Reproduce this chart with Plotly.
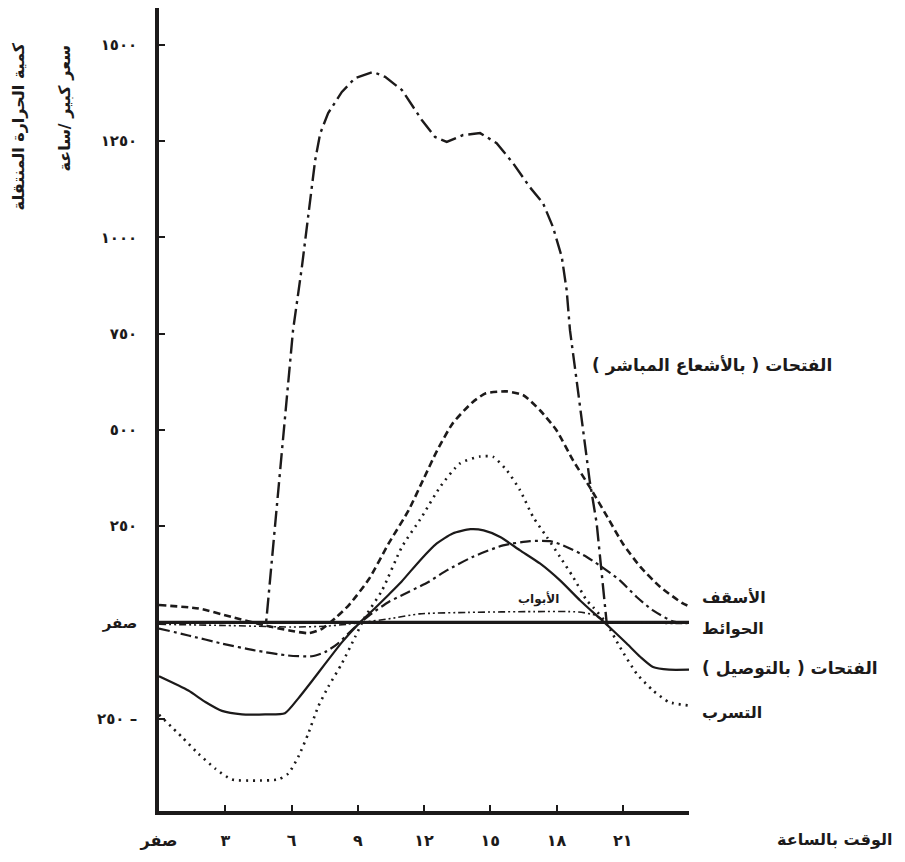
import plotly.graph_objects as go

# hours (x) and heat gain values (y)
sun_h = [0, 4.85, 4.9, 5.5, 6.07, 6.47, 6.76, 7.07, 7.3, 7.66, 8.28, 8.88, 9.7, 10.24, 11.0,
         11.9, 12.5, 13.03, 13.77, 14.54, 15.29, 16.03, 16.8, 17.39, 17.84, 18.24, 18.46,
         18.61, 18.91, 19.2, 19.5, 19.82, 20.05, 20.27, 24]
sun_v = [0, 0, 30, 395, 759, 923, 1063, 1200, 1270, 1323, 1378, 1414, 1430, 1417, 1383,
         1305, 1261, 1248, 1266, 1271, 1245, 1193, 1130, 1089, 1027, 949, 863,
         759, 629, 499, 369, 257, 127, 0, 0]

roof_h = [0, 1.8, 3.3, 4.8, 5.9, 6.8, 7.4, 8.0, 8.6, 9.5, 10.4, 11.3, 12.0, 12.6, 13.3, 14.2,
          14.8, 15.75, 16.5, 17.25, 18.0, 18.75, 19.5, 20.3, 21.0, 21.8, 22.7, 23.7, 24]
roof_v = [45, 36, 14, -8, -21, -28, -16, 12, 45, 112, 205, 291, 375, 447, 517, 572,
          595, 600, 590, 551, 499, 421, 352, 274, 205, 144, 92, 50, 42]

infil_h = [0, 1.04, 1.78, 2.55, 3.3, 4.36, 5.4, 5.85, 6.3, 6.76, 7.2, 7.66, 8.28, 8.88, 9.33,
           10.1, 11.0, 11.9, 12.73, 13.63, 14.54, 15.13, 15.75, 16.35, 16.94, 17.56, 18.16,
           18.75, 19.37, 19.65, 20.27, 20.87, 21.63, 22.37, 23.1, 24]
infil_v = [-240, -298, -341, -380, -408, -411, -408, -393, -350, -289, -220, -168, -107, -38, 14,
           83, 196, 274, 352, 413, 431, 430, 395, 343, 274, 222, 170,
           118, 57, 40, -3, -64, -133, -177, -207, -216]

cond_h = [0, 1.33, 2.1, 2.85, 3.76, 4.8, 5.7, 6.3, 6.92, 7.52, 8.28, 9.1, 9.8, 10.4, 11.0,
          11.82, 12.58, 13.3, 14.1, 14.7, 15.45, 16.35, 17.25, 18.16, 19.07, 19.97, 20.56,
          21.18, 21.8, 22.37, 23.1, 24]
cond_v = [-140, -177, -207, -230, -239, -239, -236, -198, -153, -108, -52, 0, 38, 72, 107,
          161, 205, 231, 242, 239, 222, 187, 153, 109, 57, 10, -21,
          -55, -90, -116, -123, -123]

wall_h = [0, 1.33, 2.85, 4.36, 5.85, 6.92, 7.52, 8.1, 8.88, 9.63, 10.4, 11.3, 12.2, 13.03, 14.2,
          15.58, 16.8, 17.7, 18.3, 19.37, 20.27, 20.87, 21.63, 22.37, 23.3, 24]
wall_v = [-16, -34, -55, -73, -86, -88, -77, -55, -12, 23, 53, 79, 105, 135, 170,
          200, 211, 211, 200, 170, 135, 109, 66, 31, 2, 0]

door_h = [0, 3, 6, 7.5, 8.5, 9.2, 10.5, 11.8, 14, 17, 19, 19.8, 20.3, 22, 24]
door_v = [-5, -8, -12, -10, -5, 0, 10, 22, 26, 28, 27, 18, 0, -2, -3]

base_h = [0, 24]
base_v = [0, 0]

x_ticks = [0, 3, 6, 9, 12, 15, 18, 21, 24]
x_labels = ["صفر", "٣", "٦", "٩", "١٢", "١٥", "١٨", "٢١", ""]
y_ticks = [-250, 0, 250, 500, 750, 1000, 1250, 1500]
y_labels = ["٢٥٠ –", "صفر", "٢٥٠", "٥٠٠", "٧٥٠", "١٠٠٠", "١٢٥٠", "١٥٠٠"]

INK = "#1c1a1a"
FONT = "DejaVu Sans"

fig = go.Figure()
series = [
    (base_h, base_v, "solid", 3.2, "linear"),
    (door_h, door_v, "7px,3px,2px,3px,2px,3px", 1.6, "spline"),
    (wall_h, wall_v, "11px,4px,3px,4px", 2.2, "spline"),
    (roof_h, roof_v, "7px,4px", 2.6, "spline"),
    (infil_h, infil_v, "2px,5px", 2.6, "spline"),
    (cond_h, cond_v, "solid", 2.2, "spline"),
    (sun_h, sun_v, "16px,5px,3px,5px", 2.4, "linear"),
]
for h, v, dash, w, shape in series:
    fig.add_trace(go.Scatter(x=h, y=v, mode="lines",
                             line=dict(color=INK, width=w, dash=dash, shape=shape,
                                       smoothing=0.6 if shape == "spline" else None),
                             hoverinfo="skip"))

def label(text, x, y, size=16, anchor="left", xref="paper", yref="paper", angle=0):
    fig.add_annotation(text=text, x=x, y=y, xref=xref, yref=yref, showarrow=False,
                       xanchor=anchor, yanchor="middle", textangle=angle,
                       font=dict(family=FONT, size=size, color=INK, weight="bold"))

# curve names sit to the right of the plot, so they use paper coordinates
label("الفتحات ( بالأشعاع المباشر )", 19.5, 668, size=17, xref="x", yref="y")
label("الأبواب", 17.2, 62, size=12, anchor="center", xref="x", yref="y")
label("الأسقف", 1.021, 0.266)
label("الحوائط", 1.021, 0.2275)
label("الفتحات ( بالتوصيل )", 1.021, 0.1777, size=17)
label("التسرب", 1.021, 0.1229)
label("الوقت بالساعة", 1.162, -0.036)
label("كمية الحرارة المنتقلة", -0.265, 0.852, anchor="center", angle=-90)
label("سعر كبير /ساعة", -0.179, 0.875, anchor="center", angle=-90)

# the page body adds an 8px offset, so margins are trimmed by 8px at left and top
fig.update_layout(
    width=905, height=862,
    margin=dict(l=151, r=224, t=0, b=59),
    paper_bgcolor="white", plot_bgcolor="white",
    showlegend=False,
    font=dict(family=FONT, color=INK),
    xaxis=dict(range=[0, 24], showgrid=False, zeroline=False,
               showline=True, linewidth=3.5, linecolor=INK,
               ticks="inside", ticklen=6, tickwidth=2, tickcolor=INK,
               tickvals=x_ticks, ticktext=x_labels, ticklabelstandoff=12,
               tickfont=dict(size=16, weight="bold")),
    yaxis=dict(range=[-490, 1596], showgrid=False, zeroline=False,
               showline=True, linewidth=3.5, linecolor=INK,
               ticks="inside", ticklen=6, tickwidth=2, tickcolor=INK,
               tickvals=y_ticks, ticktext=y_labels, ticklabelstandoff=15,
               tickfont=dict(size=15, weight="bold")),
)

fig.write_html("out.html")
